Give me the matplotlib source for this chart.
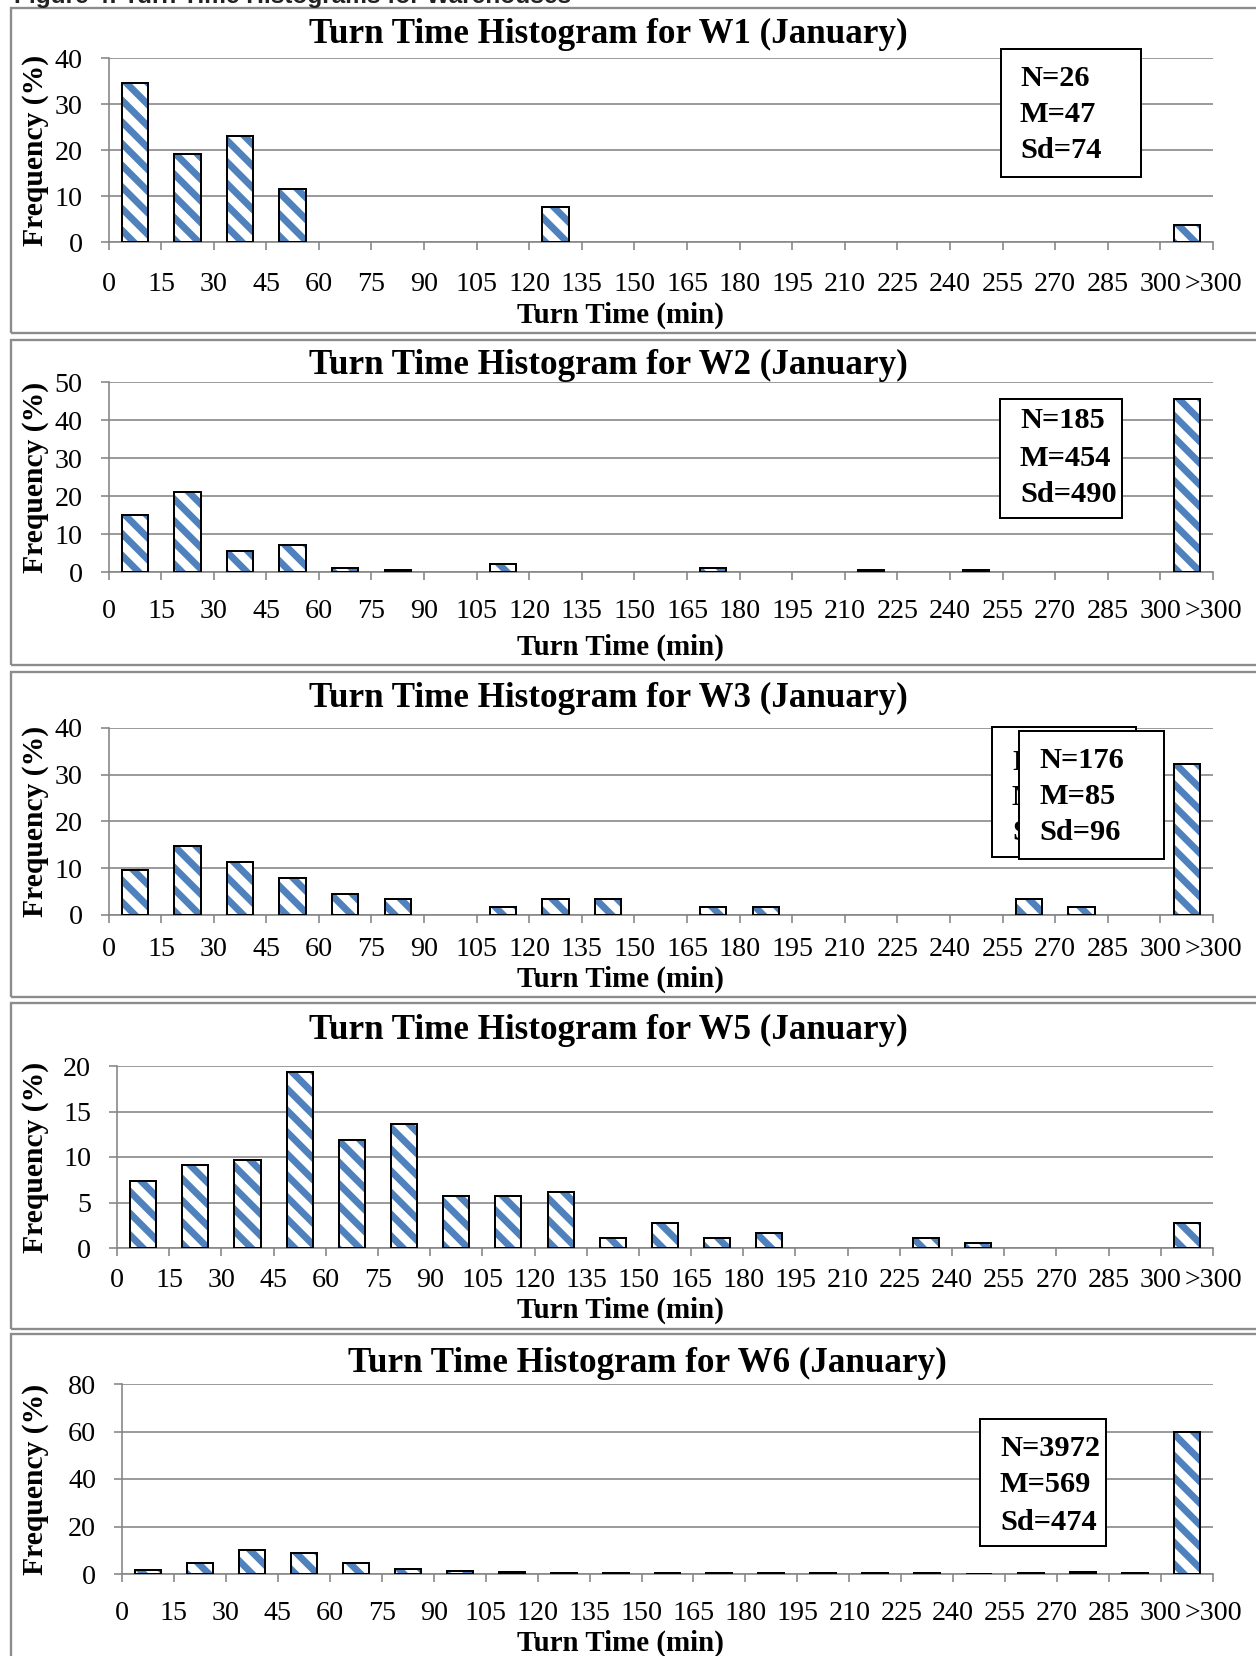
import matplotlib
matplotlib.use("Agg")
import matplotlib.pyplot as plt
from matplotlib.patches import Rectangle

# ---------------- data ----------------
bin_labels = ['0', '15', '30', '45', '60', '75', '90', '105', '120', '135', '150',
              '165', '180', '195', '210', '225', '240', '255', '270', '285', '300', '>300']

w1_freq = [34.6, 19.2, 23.1, 11.5, 0, 0, 0, 0, 7.7, 0, 0, 0, 0, 0, 0, 0, 0, 0, 0, 0, 3.8]
w2_freq = [15.1, 21.1, 5.4, 7.0, 1.1, 0.5, 0, 2.2, 0, 0, 0, 1.1, 0, 0, 0.5, 0, 0.5, 0, 0, 0, 45.4]
w3_freq = [9.7, 14.8, 11.4, 8.0, 4.5, 3.4, 0, 1.7, 3.4, 3.4, 0, 1.7, 1.7, 0, 0, 0, 0, 3.4, 1.7, 0, 32.4]
w5_freq = [7.4, 9.1, 9.7, 19.3, 11.9, 13.6, 5.7, 5.7, 6.2, 1.1, 2.8, 1.1, 1.7, 0, 0, 1.1, 0.6, 0, 0, 0, 2.8]
w6_freq = [1.7, 4.5, 10.1, 9.0, 4.5, 2.0, 1.4, 1.0, 0.6, 0.6, 0.4, 0.6, 0.4, 0.4, 0.4, 0.4, 0.1, 0.6, 0.8, 0.6, 59.8]

titles = ['Turn Time Histogram for W1 (January)', 'Turn Time Histogram for W2 (January)',
          'Turn Time Histogram for W3 (January)', 'Turn Time Histogram for W5 (January)',
          'Turn Time Histogram for W6 (January)']
stats_w1 = ['N=26', 'M=47', 'Sd=74']
stats_w2 = ['N=185', 'M=454', 'Sd=490']
stats_w3 = ['N=176', 'M=85', 'Sd=96']
stats_w6 = ['N=3972', 'M=569', 'Sd=474']
y_max = [40, 50, 40, 20, 80]
y_step = [10, 10, 10, 5, 20]

# ---------------- style / layout ----------------
W, H, DPI = 1256, 1656, 130
plt.rcParams['font.family'] = ['Liberation Serif', 'DejaVu Serif']
plt.rcParams['hatch.linewidth'] = 3.8

fig = plt.figure(figsize=(W / DPI, H / DPI), dpi=DPI)
fig.patch.set_facecolor('white')

def fx(x):
    return x / W

def fy(y):
    return 1 - y / H

def px2pt(p):
    return p * 72 / DPI

GRID = '#868686'
BLUE = '#4F81BD'

# panel layout in pixels: (border_top, border_bottom, ax_left, ax_right, ax_top, ax_zero,
#                          title_y, title_x, xlabel_y, tick_pad_px)
layout = [
    (8, 333, 108.5, 1213, 58, 242, 34, 608, 315, 22),
    (340, 665, 108.5, 1213, 382, 572, 365, 608, 647, 19),
    (672, 997, 108.5, 1213, 728, 915, 698, 608, 979, 14),
    (1003, 1329, 117, 1213, 1066, 1248, 1030, 608, 1310, 12),
    (1334, 1680, 122, 1213, 1384, 1574, 1363, 647, 1643, 19),
]
all_freq = [w1_freq, w2_freq, w3_freq, w5_freq, w6_freq]

# cut-off caption at the very top
fig.text(fx(14), fy(3), 'Figure 4: Turn Time Histograms for Warehouses',
         family=['Liberation Sans', 'DejaVu Sans'], fontweight='bold',
         fontsize=13.5, color='#222222', ha='left', va='baseline')

for k, (bt, bb, x0, x1, yt, y0, ty, tx, xly, tpad) in enumerate(layout):
    # panel border
    fig.add_artist(Rectangle((fx(11), fy(bb)), fx(1400) - fx(11), fy(bt) - fy(bb),
                             transform=fig.transFigure, fill=False,
                             edgecolor='#8c8c8c', linewidth=1.3, zorder=0.5))
    ax = fig.add_axes([fx(x0), fy(y0), fx(x1) - fx(x0), fy(yt) - fy(y0)])
    vals = all_freq[k]
    centers = [i + 0.5 for i in range(len(vals))]
    xs = [c for c, v in zip(centers, vals) if v > 0]
    vs = [v for v in vals if v > 0]
    ax.bar(xs, vs, width=0.5, color='white', edgecolor=BLUE, hatch='\\\\',
           linewidth=0, zorder=2)
    ax.bar(xs, vs, width=0.5, fill=False, edgecolor='black', linewidth=1.1, zorder=3)

    ax.set_xlim(0, len(vals))
    ax.set_ylim(0, y_max[k])
    ax.set_yticks(list(range(0, y_max[k] + 1, y_step[k])))
    ax.set_xticks(list(range(len(bin_labels))))
    ax.set_xticklabels(bin_labels)
    ax.yaxis.grid(True, color=GRID, linewidth=0.9)
    ax.set_axisbelow(True)
    for s in ['top', 'right']:
        ax.spines[s].set_visible(False)
    for s in ['left', 'bottom']:
        ax.spines[s].set_color(GRID)
        ax.spines[s].set_linewidth(0.9)
    ax.tick_params(axis='x', direction='out', length=4.4, width=0.9, color=GRID,
                   pad=px2pt(tpad), labelsize=15.5)
    ax.tick_params(axis='y', direction='out', length=4.4, width=0.9, color=GRID,
                   pad=10, labelsize=15.5)

    # texts
    fig.text(fx(tx), fy(ty), titles[k], fontsize=19.4, fontweight='bold',
             ha='center', va='center')
    fig.text(fx(620), fy(xly), 'Turn Time (min)', fontsize=16, fontweight='bold',
             ha='center', va='center')
    fig.text(fx(36), fy((yt + y0) / 2), 'Frequency (%)', fontsize=16.4, fontweight='bold',
             rotation=90, ha='center', va='center')

def stat_box(left, top, right, bottom, lines, text_x, line_ys, z=5):
    fig.add_artist(Rectangle((fx(left), fy(bottom)), fx(right) - fx(left), fy(top) - fy(bottom),
                             transform=fig.transFigure, facecolor='white',
                             edgecolor='black', linewidth=1.1, zorder=z))
    for s, yy in zip(lines, line_ys):
        fig.text(fx(text_x), fy(yy), s, fontsize=16.8, fontweight='bold',
                 ha='left', va='center', zorder=z + 0.5)

stat_box(1001, 49, 1141, 177, stats_w1, 1020, [78, 115, 151])
stat_box(1000, 399, 1122, 518, stats_w2, 1020, [421, 458, 495])
stat_box(992, 727, 1136, 857, stats_w3, 1012, [762, 798, 833], z=5)
stat_box(1019, 731, 1164, 859, stats_w3, 1039, [760, 797, 833], z=7)
stat_box(980, 1419, 1106, 1546, stats_w6, 1000, [1449, 1485, 1522])

fig.savefig('out.png', dpi=DPI)
